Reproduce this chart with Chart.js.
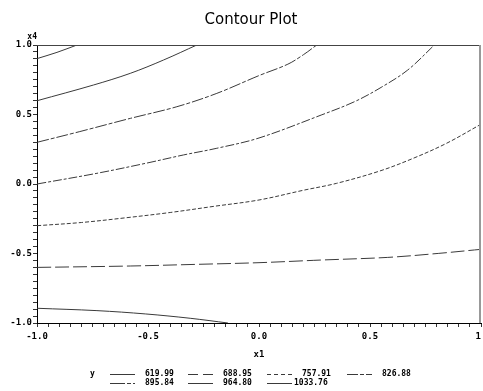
<!DOCTYPE html>
<html>
<head>
<meta charset="utf-8">
<script src="https://cdn.jsdelivr.net/npm/chart.js@4"></script>
<style>
html,body{margin:0;padding:0;background:#fff;overflow:hidden;}
#wrap{width:483px;height:391px;position:relative;}
</style>
</head>
<body>
<div id="wrap"><canvas id="c" width="483" height="391"></canvas></div>
<script>
// ---- data ----
const levels = ['619.99','688.95','757.91','826.88','895.84','964.80','1033.76'];

const c620x = [-1, -0.73, -0.51, -0.31, -0.14];
const c620y = [-0.894, -0.911, -0.935, -0.966, -1.0];

const c689x = [-1, -0.58, -0.28, 0, 0.28, 0.58, 0.81, 1];
const c689y = [-0.600, -0.590, -0.578, -0.566, -0.547, -0.528, -0.499, -0.470];

const c758x = [-1, -0.8, -0.6, -0.4, -0.2, 0, 0.2, 0.35, 0.545, 0.695, 0.845, 1];
const c758y = [-0.300, -0.277, -0.243, -0.205, -0.160, -0.115, -0.045, 0.005, 0.094, 0.185, 0.293, 0.43];

const c827x = [-1, -0.73, -0.51, -0.34, -0.19, 0, 0.28, 0.43, 0.55, 0.67, 0.79];
const c827y = [0.0, 0.077, 0.149, 0.209, 0.257, 0.331, 0.496, 0.592, 0.695, 0.82, 1.0];

const c896x = [-1, -0.81, -0.58, -0.37, -0.19, 0, 0.13, 0.2, 0.26];
const c896y = [0.300, 0.376, 0.472, 0.556, 0.652, 0.78, 0.862, 0.93, 1.0];

const c965x = [-1, -0.746, -0.58, -0.43, -0.28];
const c965y = [0.599, 0.712, 0.796, 0.892, 1.0];

const c1034x = [-1, -0.91, -0.82];
const c1034y = [0.902, 0.947, 1.0];

const xTickLabels = ['-1.0','-0.5','0.0','0.5','1.'];
const yTickLabels = ['-1.0','-0.5','0.0','0.5','1.0'];

// ---- build ----
const seriesX = [c620x, c689x, c758x, c827x, c896x, c965x, c1034x];
const seriesY = [c620y, c689y, c758y, c827y, c896y, c965y, c1034y];
const dashes = [[], [14,4], [4,2], [9,2,3,2], [12,2,4,2], [], []];
const legendDashes = [[], [10,5], [4,3], [11,2,4,2], [15,2,4,2], [], []];

const datasets = levels.map((lab, i) => ({
  label: lab,
  data: seriesX[i].map((x, j) => ({x: x, y: seriesY[i][j]})),
  showLine: true,
  borderColor: '#3a3a3a',
  borderWidth: 1,
  borderDash: dashes[i],
  pointRadius: 0,
  fill: false,
  tension: 0.35,
  legendDash: legendDashes[i]
}));

const tickFont = {family: '"DejaVu Sans Mono"', size: 9, weight: 'bold'};

function majorLabel(v, labels) {
  const k = Math.round((v + 1) * 2);
  if (Math.abs((v + 1) * 2 - k) < 1e-6) return labels[k];
  return '';
}

const decor = {
  id: 'decor',
  afterDraw(chart) {
    const ctx = chart.ctx;
    const a = chart.chartArea;
    ctx.save();
    // frame (top & right)
    ctx.strokeStyle = '#444';
    ctx.lineWidth = 1;
    ctx.beginPath();
    ctx.moveTo(a.left, a.top + 0.5);
    ctx.lineTo(a.right - 0.5, a.top + 0.5);
    ctx.stroke();
    ctx.strokeStyle = '#999';
    ctx.lineWidth = 2;
    ctx.beginPath();
    ctx.moveTo(a.right - 1, a.top);
    ctx.lineTo(a.right - 1, a.bottom);
    ctx.stroke();
    // title
    ctx.fillStyle = '#000';
    ctx.font = '15px "DejaVu Sans"';
    ctx.textAlign = 'center';
    ctx.textBaseline = 'middle';
    ctx.fillText('Contour Plot', 251, 20);
    // axis names
    ctx.font = 'bold 8px "DejaVu Sans Mono"';
    ctx.textAlign = 'right';
    ctx.fillText('x4', a.left, a.top - 8);
    ctx.textAlign = 'center';
    ctx.font = 'bold 9px "DejaVu Sans Mono"';
    ctx.fillText('x1', (a.left + a.right) / 2, a.bottom + 32);
    // legend
    const colX = [110, 188, 267, 347];
    const rowY = [a.bottom + 51, a.bottom + 60];
    ctx.font = 'bold 8px "DejaVu Sans Mono"';
    ctx.textAlign = 'left';
    ctx.fillText('y', 90, rowY[0]);
    chart.data.datasets.forEach((ds, i) => {
      const r = Math.floor(i / 4), c = i % 4;
      const x0 = colX[c], y0 = rowY[r];
      ctx.strokeStyle = '#3a3a3a';
      ctx.lineWidth = 1;
      ctx.setLineDash(ds.legendDash);
      ctx.beginPath();
      ctx.moveTo(x0, y0 + 0.5);
      ctx.lineTo(x0 + 25, y0 + 0.5);
      ctx.stroke();
      ctx.setLineDash([]);
      ctx.fillStyle = '#000';
      ctx.fillText(ds.label, x0 + (i === 6 ? 27 : 35), y0);
    });
    ctx.restore();
  }
};

new Chart(document.getElementById('c'), {
  type: 'scatter',
  data: {datasets: datasets},
  options: {
    responsive: false,
    animation: false,
    events: [],
    layout: {padding: {top: 45, right: 2, bottom: 0, left: 0}},
    plugins: {legend: {display: false}, title: {display: false}, tooltip: {enabled: false}},
    scales: {
      x: {
        type: 'linear', min: -1, max: 1,
        afterFit(s) { s.height = 68; s.paddingRight = 0; s.paddingLeft = 0; },
        ticks: {
          stepSize: 0.05, autoSkip: false, maxRotation: 0, minRotation: 0,
          color: '#000', font: tickFont, padding: 4,
          callback: (v) => majorLabel(v, xTickLabels)
        },
        grid: {display: true, drawOnChartArea: false, drawTicks: true, tickLength: 4, color: '#333'},
        border: {display: true, color: '#000', width: 1}
      },
      y: {
        type: 'linear', min: -1, max: 1,
        afterFit(s) { s.width = 37; },
        ticks: {
          stepSize: 0.05, autoSkip: false,
          color: '#000', font: tickFont, padding: 1,
          callback: (v) => majorLabel(v, yTickLabels)
        },
        grid: {display: true, drawOnChartArea: false, drawTicks: true, tickLength: 4, color: '#333'},
        border: {display: true, color: '#000', width: 1}
      }
    }
  },
  plugins: [decor]
});
</script>
</body>
</html>
